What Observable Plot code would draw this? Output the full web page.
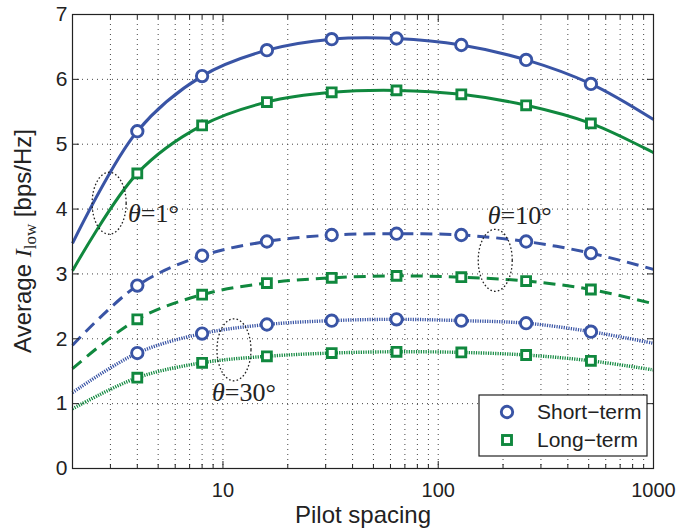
<!DOCTYPE html>
<html><head><meta charset="utf-8">
<script src="https://cdn.jsdelivr.net/npm/d3@7"></script>
<script src="https://cdn.jsdelivr.net/npm/@observablehq/plot@0.6"></script>
<style>body{margin:0;background:#fff}#c{position:relative;width:676px;height:529px}</style>
</head><body><div id="c"></div>
<script>
// Pilot spacing positions (curve endpoints 2 and 1000 plus markers)
const spacing = [2, 4, 8, 16, 32, 64, 128, 256, 512, 1000];
const markerSpacing = [4, 8, 16, 32, 64, 128, 256, 512];
// theta = 1 deg
const short1 = [3.47, 5.20, 6.05, 6.45, 6.62, 6.63, 6.53, 6.30, 5.93, 5.38];
const long1  = [3.05, 4.55, 5.29, 5.65, 5.80, 5.83, 5.77, 5.60, 5.32, 4.87];
// theta = 10 deg
const short10 = [1.90, 2.82, 3.28, 3.50, 3.60, 3.62, 3.60, 3.50, 3.32, 3.07];
const long10  = [1.54, 2.30, 2.68, 2.86, 2.94, 2.97, 2.95, 2.89, 2.76, 2.54];
// theta = 30 deg
const short30 = [1.17, 1.78, 2.08, 2.22, 2.28, 2.30, 2.28, 2.24, 2.11, 1.93];
const long30  = [0.92, 1.40, 1.63, 1.73, 1.78, 1.80, 1.79, 1.75, 1.66, 1.52];

const seriesNames = ["Short-term", "Long-term"];
const thetaLabels = ["θ=1°", "θ=10°", "θ=30°"];
const labelX = [3.62, 170, 8.9];
const labelY = [3.93, 3.90, 1.17];
const ellipseX = [2.96, 184, 11.25];
const ellipseY = [4.09, 3.21, 1.83];
const yTicks = [0, 1, 2, 3, 4, 5, 6, 7];
const xMajor = [10, 100, 1000];

const blue = "#3954a5", green = "#10883e";
const xMinor = [];
for (const d of [1, 10, 100]) for (let k = 2; k <= 9; k++) if (k * d >= 2) xMinor.push(k * d);
const xAll = [...xMinor, ...xMajor];

const groups = [
  {vals: short1, color: blue, dash: null, w: 3, sym: "circle"},
  {vals: long1, color: green, dash: null, w: 3, sym: "square"},
  {vals: short10, color: blue, dash: "12,7", w: 3, sym: "circle"},
  {vals: long10, color: green, dash: "12,7", w: 3, sym: "square"},
  {vals: short30, color: blue, dash: "1.2,1.2", w: 3.4, sym: "circle"},
  {vals: long30, color: green, dash: "1.2,1.2", w: 3.4, sym: "square"}
];

const ellipseSymbol = {
  draw(ctx, size) {
    const rx = 17, ry = 31, k = 0.5523;
    ctx.moveTo(rx, 0);
    ctx.bezierCurveTo(rx, ry * k, rx * k, ry, 0, ry);
    ctx.bezierCurveTo(-rx * k, ry, -rx, ry * k, -rx, 0);
    ctx.bezierCurveTo(-rx, -ry * k, -rx * k, -ry, 0, -ry);
    ctx.bezierCurveTo(rx * k, -ry, rx, -ry * k, rx, 0);
    ctx.closePath();
  }
};

const marks = [
  Plot.gridX(xAll, {stroke: "#444", strokeOpacity: 1, strokeWidth: 1, strokeDasharray: "1,4"}),
  Plot.gridY([1, 2, 3, 4, 5, 6], {stroke: "#444", strokeOpacity: 1, strokeWidth: 1, strokeDasharray: "1,4"})
];
for (const g of groups) {
  const rows = spacing.map((s, i) => ({x: s, y: g.vals[i]}));
  marks.push(Plot.line(rows, {x: "x", y: "y", stroke: g.color, strokeWidth: g.w,
    strokeDasharray: g.dash, strokeLinecap: "butt", curve: "catmull-rom"}));
}
for (const g of groups) {
  const rows = spacing.map((s, i) => ({x: s, y: g.vals[i]})).filter(d => markerSpacing.includes(d.x));
  marks.push(Plot.dot(rows, {x: "x", y: "y", symbol: g.sym, r: g.sym === "circle" ? 5.7 : 5,
    stroke: g.color, strokeWidth: 2.9, fill: "white"}));
}
marks.push(
  Plot.dot(ellipseX.map((x, i) => ({x, y: ellipseY[i]})), {x: "x", y: "y", symbol: ellipseSymbol, r: 5,
    stroke: "#222", strokeWidth: 1.3, strokeDasharray: "1.6,2.2", fill: "none"}),
  Plot.text(thetaLabels.map((t, i) => ({t, x: labelX[i], y: labelY[i]})), {x: "x", y: "y", text: "t",
    textAnchor: "start", fontSize: 26, fontFamily: "Liberation Serif, DejaVu Serif, serif", fill: "#222"}),
  Plot.frame({stroke: "#222", strokeWidth: 1.2}),
  Plot.axisY(yTicks, {anchor: "left", tickSize: 0, tickPadding: 5, fontSize: 21, tickFormat: d => String(d), label: null}),
  Plot.axisY(yTicks, {anchor: "left", tickSize: -7, tickFormat: () => "", label: null}),
  Plot.axisY(yTicks, {anchor: "right", tickSize: -7, tickFormat: () => "", label: null}),
  Plot.axisX(xMajor, {anchor: "bottom", tickSize: 0, tickPadding: 14, fontSize: 20, tickFormat: d => String(d), label: null}),
  Plot.axisX(xMajor, {anchor: "bottom", tickSize: -7, tickFormat: () => "", label: null}),
  Plot.axisX(xMinor, {anchor: "bottom", tickSize: -4, tickFormat: () => "", label: null}),
  Plot.axisX(xMajor, {anchor: "top", tickSize: -7, tickFormat: () => "", label: null}),
  Plot.axisX(xMinor, {anchor: "top", tickSize: -4, tickFormat: () => "", label: null})
);

const plot = Plot.plot({
  width: 676, height: 529,
  marginLeft: 72, marginRight: 23, marginTop: 14, marginBottom: 61,
  style: {fontFamily: "Liberation Sans, Arial, sans-serif", color: "#222", background: "white", overflow: "visible"},
  x: {type: "log", domain: [2, 1000]},
  y: {domain: [0, 7]},
  marks
});
document.getElementById("c").appendChild(plot);

const svg = d3.select(plot);
// italic theta in annotation labels
svg.selectAll("text").each(function () {
  const t = this.textContent;
  if (t && t.startsWith("θ") && this.childElementCount === 0) {
    const el = d3.select(this);
    el.text(null);
    el.append("tspan").attr("font-style", "italic").text("θ");
    el.append("tspan").text(t.slice(1));
  }
});
const sans = "Liberation Sans, Arial, sans-serif";
// axis labels
svg.append("text").attr("x", 363).attr("y", 523).attr("text-anchor", "middle")
  .attr("font-size", 24).attr("font-family", sans).attr("fill", "#222").text("Pilot spacing");
const yl = svg.append("text").attr("transform", "translate(31,241) rotate(-90)").attr("text-anchor", "middle")
  .attr("font-size", 24).attr("font-family", sans).attr("fill", "#222");
yl.append("tspan").text("Average ");
yl.append("tspan").attr("font-family", "Liberation Serif, serif").attr("font-style", "italic").text("I");
yl.append("tspan").attr("font-family", "Liberation Serif, serif").attr("font-size", 17).attr("dy", 5).text("low");
yl.append("tspan").attr("dy", -5).text(" [bps/Hz]");

// legend
const lg = svg.append("g");
lg.append("rect").attr("x", 479).attr("y", 395).attr("width", 168).attr("height", 61)
  .attr("fill", "white").attr("stroke", "#222").attr("stroke-width", 1.2);
lg.append("circle").attr("cx", 507).attr("cy", 412).attr("r", 5.7).attr("fill", "white").attr("stroke", blue).attr("stroke-width", 2.9);
lg.append("rect").attr("x", 502.5).attr("y", 435.5).attr("width", 9).attr("height", 9).attr("fill", "white").attr("stroke", green).attr("stroke-width", 2.9);
seriesNames.forEach((n, i) => lg.append("text").attr("x", 537).attr("y", 419 + i * 28).attr("text-anchor", "start")
  .attr("font-size", 21).attr("font-family", sans).attr("fill", "#222").text(n.replace("-", "\u2212")));
</script></body></html>
